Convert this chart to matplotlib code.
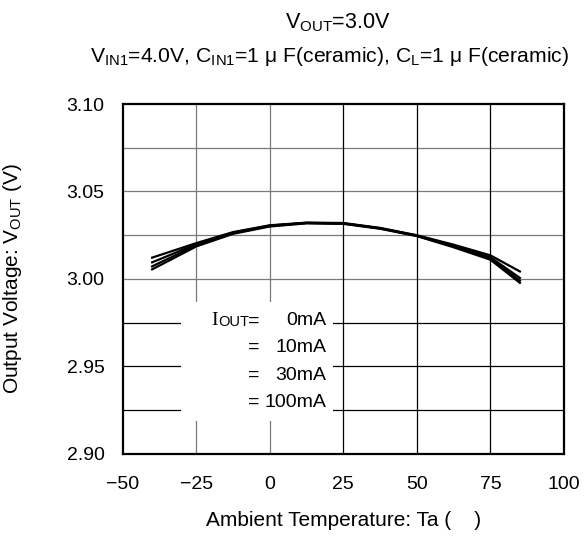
import matplotlib.pyplot as plt

plt.rcParams['font.family'] = ['Liberation Sans', 'DejaVu Sans']
plt.rcParams['mathtext.fontset'] = 'custom'
plt.rcParams['mathtext.rm'] = 'Liberation Sans'

# Ambient temperature (C) and output voltage (V) per load current
ta = [-40, -25, -12.5, 0, 12.5, 25, 37.5, 50, 62.5, 75, 85]
v_0ma = [3.0122, 3.0205, 3.0268, 3.0307, 3.0322, 3.0320, 3.0292, 3.0250, 3.0196, 3.0135, 3.0043]
v_10ma = [3.0095, 3.0199, 3.0265, 3.0305, 3.0321, 3.0318, 3.0290, 3.0248, 3.0190, 3.0124, 3.0006]
v_30ma = [3.0072, 3.0193, 3.0262, 3.0303, 3.0320, 3.0317, 3.0289, 3.0247, 3.0186, 3.0117, 2.9990]
v_100ma = [3.0055, 3.0186, 3.0258, 3.0300, 3.0318, 3.0315, 3.0287, 3.0245, 3.0181, 3.0110, 2.9978]

xticks = [-50, -25, 0, 25, 50, 75, 100]
yticks = [2.90, 2.95, 3.00, 3.05, 3.10]
ygrid = [2.925, 2.95, 2.975, 3.0, 3.025, 3.05, 3.075]
legend_vals = ['0mA', '10mA', '30mA', '100mA']

fig = plt.figure(figsize=(5.86, 5.4), dpi=100)
ax = fig.add_axes([0.2094, 0.1593, 0.7531, 0.6481])

# grid (upper lines greyish, lower ones black as in the scan)
for y in ygrid:
    ax.axhline(y, color='#7a7a7a' if y >= 3.0 else 'black', lw=0.9, zorder=1)
for x in xticks[1:-1]:
    ax.axvline(x, color='#7a7a7a' if x <= 0 else 'black', lw=0.9, zorder=1)

for v in [v_0ma, v_10ma, v_30ma, v_100ma]:
    ax.plot(ta, v, color='black', lw=1.6, zorder=3)

ax.set_xlim(-50, 100)
ax.set_ylim(2.90, 3.10)
ax.set_xticks(xticks)
ax.set_yticks(yticks)
ax.set_yticklabels(['%.2f' % y for y in yticks])
ax.tick_params(length=0, labelsize=14)
ax.tick_params(axis='x', pad=16)
ax.tick_params(axis='y', pad=13)
for s in ax.spines.values():
    s.set_linewidth(1.6)

# white legend area hiding the grid
ax.add_patch(plt.Rectangle((-30.2, 2.919), 51.7, 0.068, facecolor='white',
                           edgecolor='none', zorder=2))
rows = [2.976, 2.9607, 2.945, 2.9297]
ax.text(-20.0, rows[0], 'I', family='Liberation Serif', fontsize=14, va='center', zorder=4)
ax.text(-17.6, rows[0] - 0.0004, 'OUT', fontsize=10.5, va='center', zorder=4)
for r, lab in zip(rows, legend_vals):
    ax.text(-7.5, r, '=', fontsize=14, va='center', zorder=4)
    ax.text(19.3, r, lab, fontsize=14, va='center', ha='right', zorder=4)

ax.set_xlabel('Ambient Temperature: Ta (    )', fontsize=15)
ax.xaxis.set_label_coords(0.5, -0.163)
ax.set_ylabel(r'Output Voltage: V$_{\rm OUT}$ (V)', fontsize=15)
ax.yaxis.set_label_coords(-0.2237, 0.5)

fig.text(0.577, 0.958, r'V$_{\rm OUT}$=3.0V', fontsize=15.5, ha='center', va='center')
fig.text(0.563, 0.896, r'V$_{\rm IN1}$=4.0V, C$_{\rm IN1}$=1 μ F(ceramic), C$_{\rm L}$=1 μ F(ceramic)',
         fontsize=15.2, ha='center', va='center')

fig.savefig('out.png', dpi=100)
